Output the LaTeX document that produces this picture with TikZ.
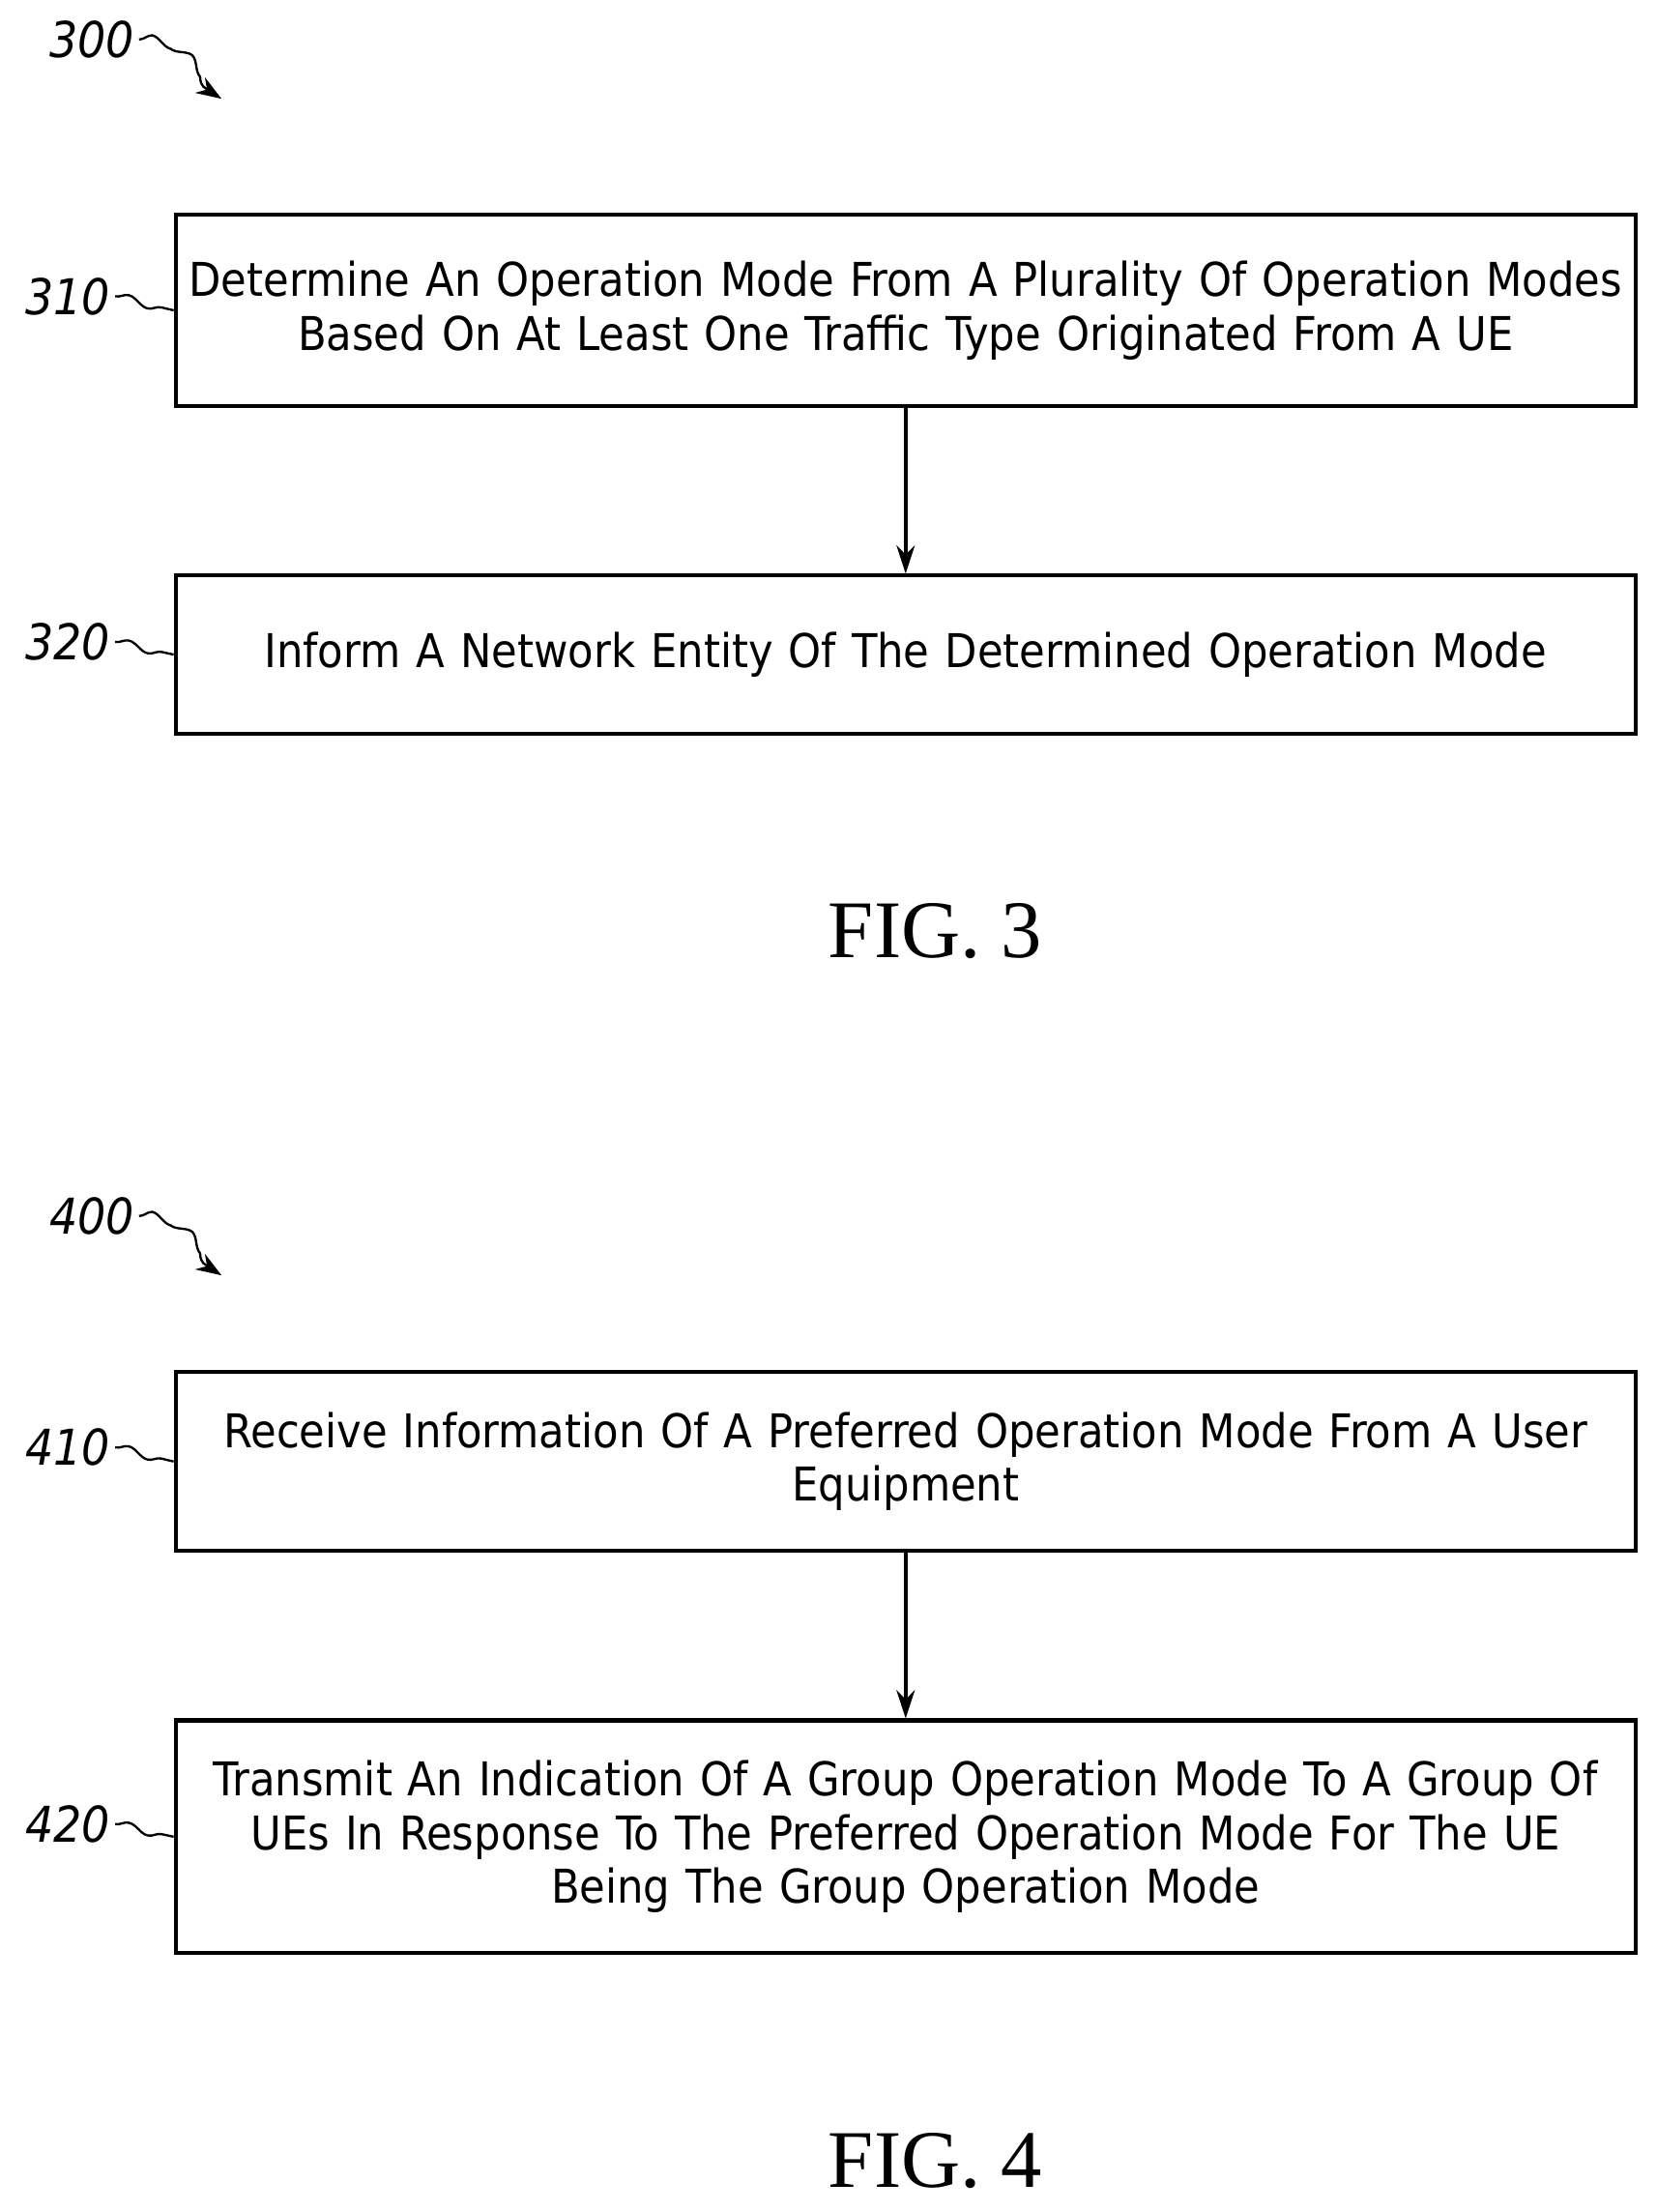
\documentclass[tikz,border=0pt]{standalone}
\usepackage{fontspec}
\setmainfont{DejaVu Sans Condensed}
\newfontfamily\figfont{Liberation Serif}
\usetikzlibrary{arrows.meta,decorations.pathmorphing}

\tikzset{
  stepbox/.style={draw, line width=2.8pt, minimum width=1035pt, text width=1030pt, align=center,
    font=\fontsize{33}{38}\selectfont, inner sep=0pt},
  reflabel/.style={font=\fontsize{35}{38}\selectfont\itshape},
  figlabel/.style={font=\figfont\fontsize{58}{60}\selectfont},
  flow/.style={-{Stealth[length=20pt,width=13pt]}, line width=2.4pt},
  lead/.style={line width=1.6pt, decorate, decoration={snake, amplitude=3pt, segment length=30pt}},
}

\begin{document}
\begin{tikzpicture}[x=1pt,y=-1pt]
  \useasboundingbox (0,0) rectangle (1174,1568);
  % FIG. 3
  \node[reflabel] (n300) at (65,28) {300};
  \coordinate (a300) at (157,70);
  \draw[lead,-{Stealth[length=18pt,width=13pt]}] (n300.east) to[out=0,in=150] (a300);
  \node[stepbox, minimum height=136pt] (s310) at (642,220)
    {Determine An Operation Mode From A Plurality Of Operation Modes\\Based On At Least One Traffic Type Originated From A UE};
  \node[stepbox, minimum height=112pt] (s320) at (642,464)
    {Inform A Network Entity Of The Determined Operation Mode};
  \draw[flow] (s310) -- (s320);
  \node[reflabel] (n310) at (48,210) {310};
  \node[reflabel] (n320) at (48,455) {320};
  \draw[lead] (n310.east) -- (s310.west);
  \draw[lead] (n320.east) -- (s320.west);
  \node[figlabel] (fig3) at (663,660) {FIG. 3};
  % FIG. 4
  \node[reflabel] (n400) at (65,862) {400};
  \coordinate (a400) at (157,904);
  \draw[lead,-{Stealth[length=18pt,width=13pt]}] (n400.east) to[out=0,in=150] (a400);
  \node[stepbox, minimum height=127pt] (s410) at (642,1036)
    {Receive Information Of A Preferred Operation Mode From A User\\Equipment};
  \node[stepbox, minimum height=165pt] (s420) at (642,1302)
    {Transmit An Indication Of A Group Operation Mode To A Group Of\\UEs In Response To The Preferred Operation Mode For The UE\\Being The Group Operation Mode};
  \draw[flow] (s410) -- (s420);
  \node[reflabel] (n410) at (48,1026) {410};
  \node[reflabel] (n420) at (48,1293) {420};
  \draw[lead] (n410.east) -- (s410.west);
  \draw[lead] (n420.east) -- (s420.west);
  \node[figlabel] (fig4) at (663,1532) {FIG. 4};
\end{tikzpicture}
\end{document}
